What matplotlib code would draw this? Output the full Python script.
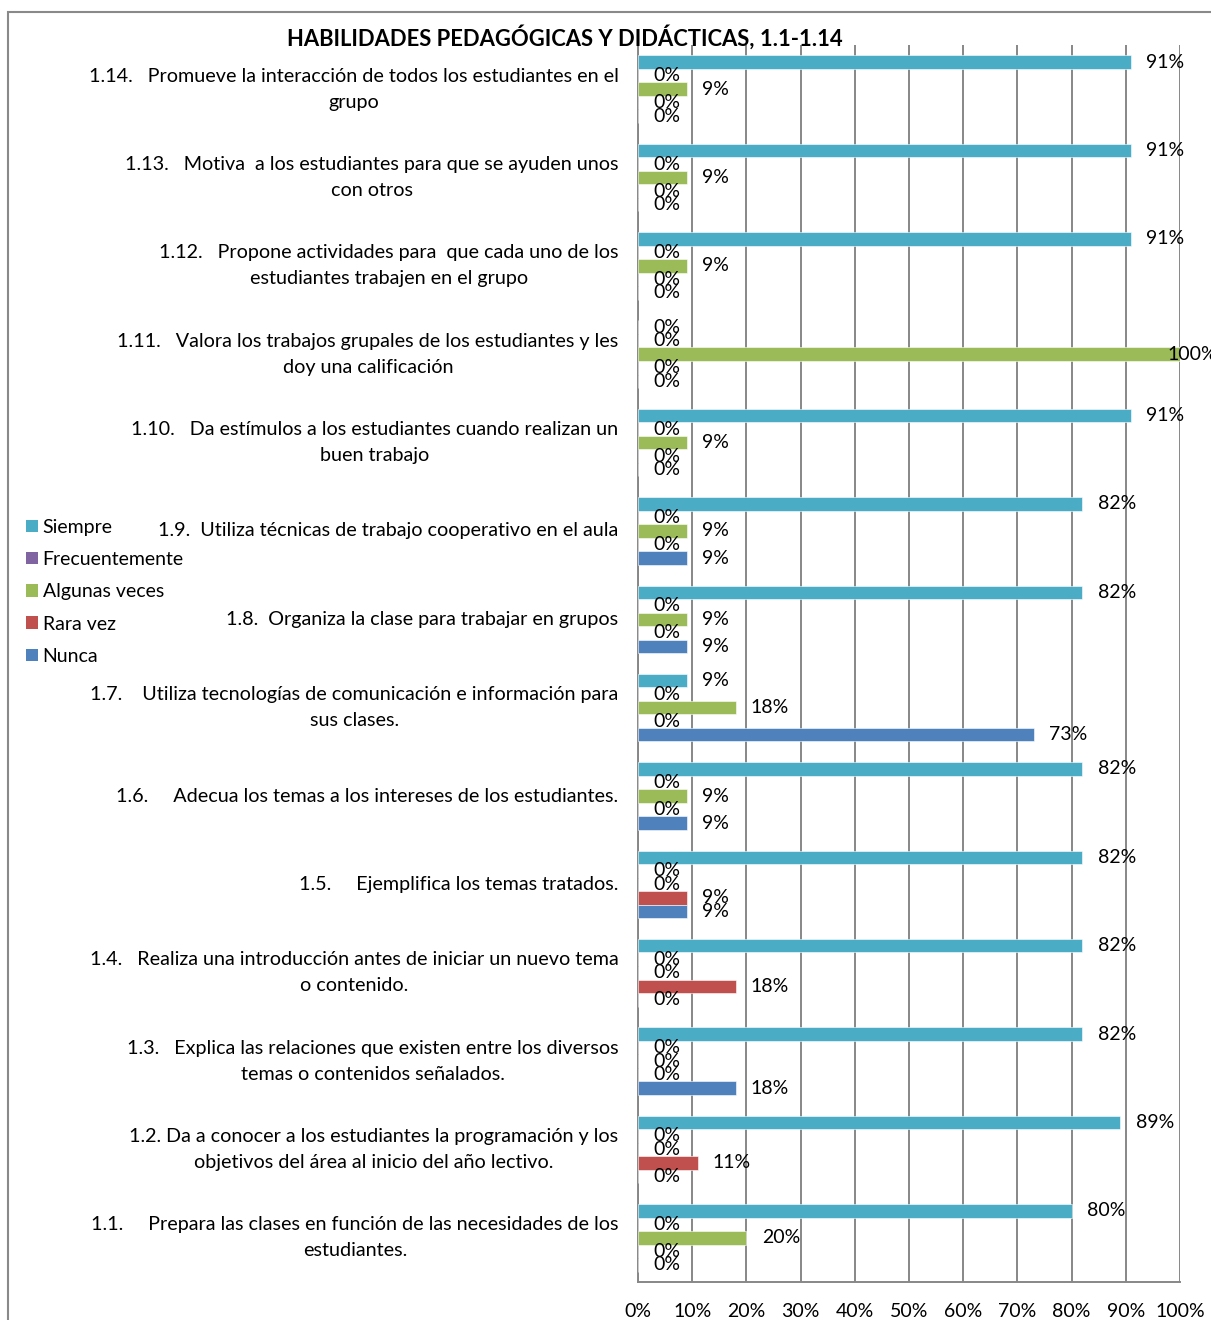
import numpy as np
import matplotlib
matplotlib.use('Agg')
import matplotlib.pyplot as plt
from matplotlib.patches import Patch, Rectangle

plt.rcParams['font.family'] = ['Lato', 'DejaVu Sans']

# categories from bottom (1.1) to top (1.14)
categories = [
    '1.1.     Prepara las clases en función de las necesidades de los\nestudiantes.',
    '1.2. Da a conocer a los estudiantes la programación y los\nobjetivos del área al inicio del año lectivo.',
    '1.3.   Explica las relaciones que existen entre los diversos\ntemas o contenidos señalados.',
    '1.4.   Realiza una introducción antes de iniciar un nuevo tema\no contenido.',
    '1.5.     Ejemplifica los temas tratados.',
    '1.6.     Adecua los temas a los intereses de los estudiantes.',
    '1.7.    Utiliza tecnologías de comunicación e información para\nsus clases.',
    '1.8.  Organiza la clase para trabajar en grupos',
    '1.9.  Utiliza técnicas de trabajo cooperativo en el aula',
    '1.10.   Da estímulos a los estudiantes cuando realizan un\nbuen trabajo',
    '1.11.   Valora los trabajos grupales de los estudiantes y les\ndoy una calificación',
    '1.12.   Propone actividades para  que cada uno de los\nestudiantes trabajen en el grupo',
    '1.13.   Motiva  a los estudiantes para que se ayuden unos\ncon otros',
    '1.14.   Promueve la interacción de todos los estudiantes en el\ngrupo',
]

siempre = [80, 89, 82, 82, 82, 82, 9, 82, 82, 91, 0, 91, 91, 91]
frecuentemente = [0, 0, 0, 0, 0, 0, 0, 0, 0, 0, 0, 0, 0, 0]
algunas_veces = [20, 0, 0, 0, 0, 9, 18, 9, 9, 9, 100, 9, 9, 9]
rara_vez = [0, 11, 0, 18, 9, 0, 0, 0, 0, 0, 0, 0, 0, 0]
nunca = [0, 0, 18, 0, 9, 9, 73, 9, 9, 0, 0, 0, 0, 0]

series_names = ['Siempre', 'Frecuentemente', 'Algunas veces', 'Rara vez', 'Nunca']
series_vals = [siempre, frecuentemente, algunas_veces, rara_vez, nunca]
colors = ['#4BACC6', '#8064A2', '#9BBB59', '#C0504D', '#4F81BD']

title = 'HABILIDADES PEDAGÓGICAS Y DIDÁCTICAS, 1.1-1.14'
xticks = np.arange(0, 101, 10)

FS = 14
fig = plt.figure(figsize=(12.11, 13.2), dpi=100)
ax = fig.add_axes([638 / 1211, 1 - 1282 / 1320, 542 / 1211, (1282 - 45) / 1320])

y = np.arange(len(categories))
h = 0.153
for k, (name, vals, col) in enumerate(zip(series_names, series_vals, colors)):
    yy = y + (2 - k) * h
    ax.barh(yy, vals, height=h, color=col, edgecolor='white', linewidth=0.4, zorder=3)
    for yi, v in zip(yy, vals):
        off = 11 if v < 100 else -9
        ax.annotate('%d%%' % v, (v, yi), xytext=(off, 0), textcoords='offset points',
                    ha='left', va='center', fontsize=FS, zorder=4, annotation_clip=False)

ax.set_xlim(0, 100)
ax.set_ylim(-0.5, len(categories) - 0.5)
ax.set_xticks(xticks)
ax.set_xticklabels(['%d%%' % t for t in xticks], fontsize=FS)
ax.set_yticks(y)
ax.set_yticklabels(categories, fontsize=14.2, linespacing=1.65, va='center')
for t in ax.get_yticklabels():
    t.set_multialignment('center')
ax.tick_params(axis='x', length=0, pad=15)
ax.tick_params(axis='y', length=0, pad=14)
ax.grid(axis='x', color='#878787', linewidth=1.4, zorder=0)
for s in ['top', 'right']:
    ax.spines[s].set_visible(False)
for s in ['left', 'bottom']:
    ax.spines[s].set_color('#878787')
    ax.spines[s].set_linewidth(1.4)

fig.text(565 / 1211, 1 - 37 / 1320, title, ha='center', va='center',
         fontsize=15.8, fontweight='bold')

handles = [Patch(facecolor=c) for c in colors]
fig.legend(handles, series_names, loc='upper left', bbox_to_anchor=(26 / 1211, 1 - 519 / 1320),
           frameon=False, fontsize=FS, handlelength=0.6, handleheight=0.6,
           handletextpad=0.25, labelspacing=0.78, borderaxespad=0, borderpad=0)

fig.add_artist(Rectangle((8 / 1211, -0.1), 1.5, 0.1 + 1 - 12 / 1320, transform=fig.transFigure,
                         fill=False, edgecolor='#898989', linewidth=1.5))

plt.savefig('out.png', dpi=100)
